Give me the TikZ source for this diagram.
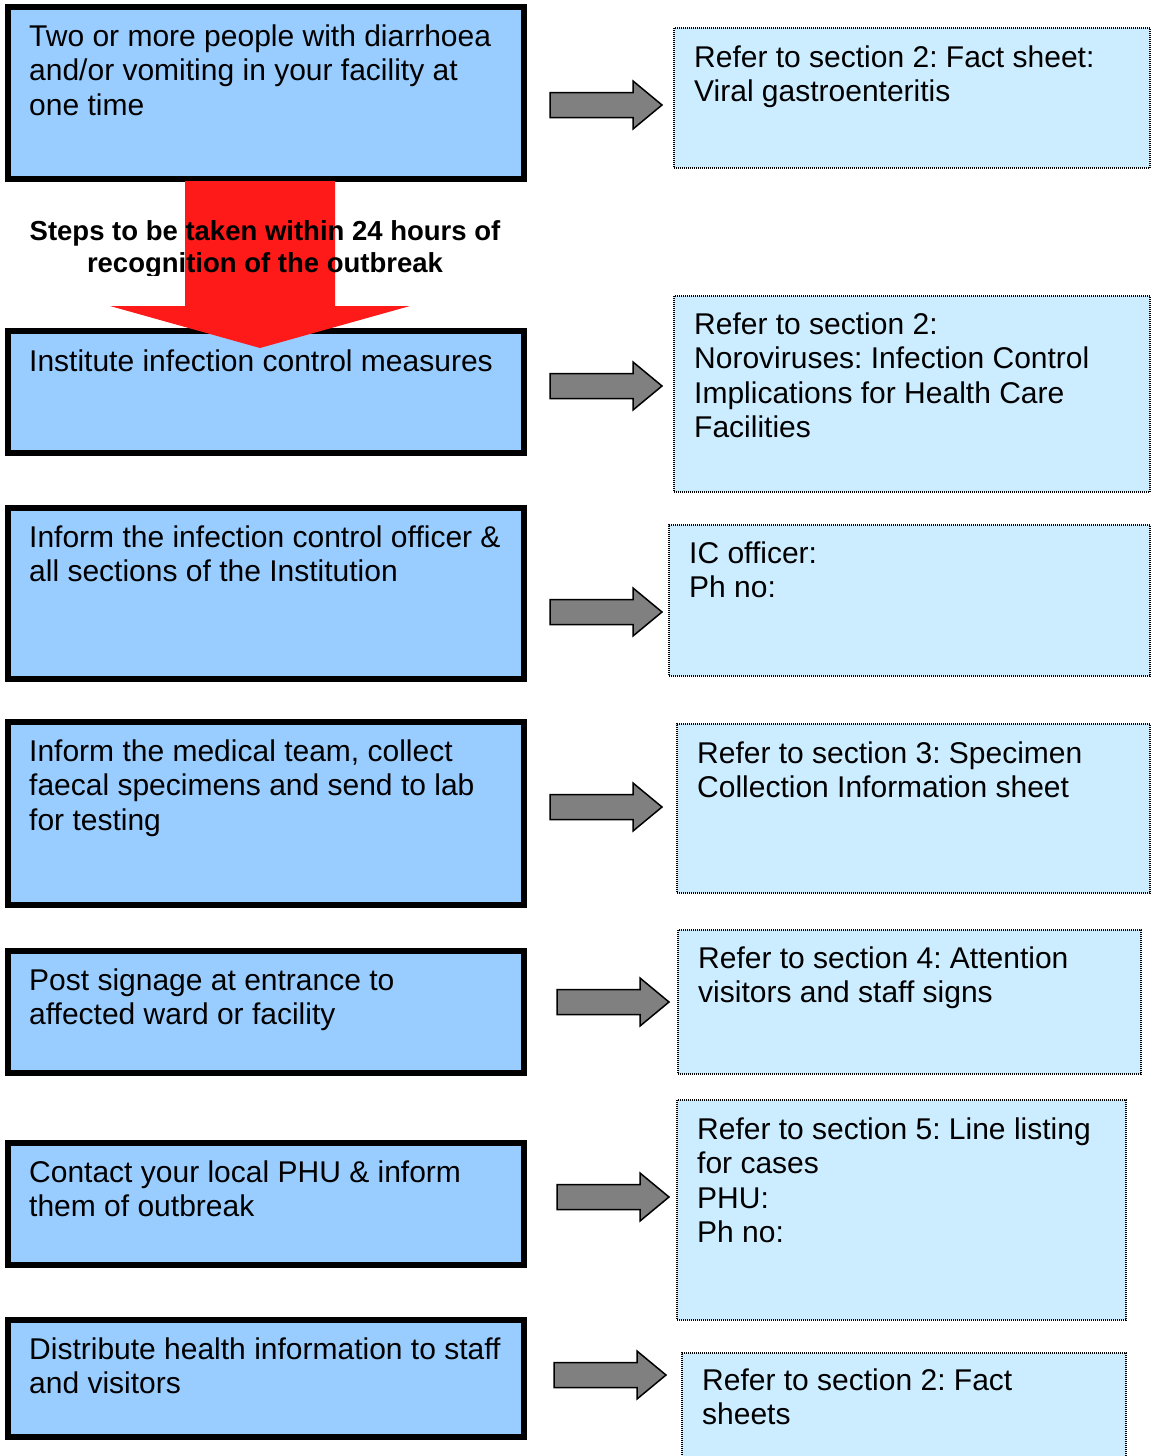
\documentclass[tikz,border=0pt]{standalone}
\usepackage{fontspec}
\setmainfont{Liberation Sans}
\frenchspacing
\usetikzlibrary{fit}
\definecolor{leftfill}{HTML}{99CCFF}
\definecolor{rightfill}{HTML}{CCECFF}
\definecolor{redarrow}{HTML}{FF1A1A}
\definecolor{grayfill}{HTML}{808080}
\tikzset{
  leftbox/.style={draw=black, line width=6pt, fill=leftfill, inner sep=0pt, rectangle},
  rightbox/.style={draw=black, line width=1.2pt, dash pattern=on 1pt off 1pt, fill=rightfill, inner sep=0pt, rectangle},
  bodytext/.style={font=\fontsize{30}{34.5}\selectfont, align=left, inner sep=0pt, anchor=north west, execute at begin node=\strut},
  headtext/.style={font=\fontsize{27.5}{31.6}\selectfont\bfseries, align=center, inner sep=0pt, anchor=north, execute at begin node=\strut},
  grayarrow/.pic={\draw[fill=grayfill, draw=black, line width=1.5pt, line join=miter]
    (0,-12.5) -- (83,-12.5) -- (83,-24) -- (112,0) -- (83,24) -- (83,12.5) -- (0,12.5) -- cycle;}
}
\begin{document}
\frenchspacing
\begin{tikzpicture}[x=1pt, y=-1pt]
\clip (0,0) rectangle (1151,1456);
\fill[white] (0,0) rectangle (1151,1456);

% left boxes
\node[leftbox, fit={(8,7) (524,179)}] (L1) {};
\node[leftbox, fit={(8,331) (524,453)}] (L2) {};
\node[leftbox, fit={(8,508) (524,679)}] (L3) {};
\node[leftbox, fit={(8,722) (524,905)}] (L4) {};
\node[leftbox, fit={(8,951) (524,1073)}] (L5) {};
\node[leftbox, fit={(8,1143) (524,1265)}] (L6) {};
\node[leftbox, fit={(8,1320) (524,1437)}] (L7) {};

% right boxes
\node[rightbox, fit={(674,28) (1150,168)}] (R1) {};
\node[rightbox, fit={(674,296) (1150,492)}] (R2) {};
\node[rightbox, fit={(669,525) (1150,676)}] (R3) {};
\node[rightbox, fit={(677,724) (1150,893)}] (R4) {};
\node[rightbox, fit={(678,930) (1141,1074)}] (R5) {};
\node[rightbox, fit={(677,1100) (1126,1320)}] (R6) {};
\node[rightbox, fit={(682,1353) (1126,1470)}] (R7) {};

% red arrow
\fill[redarrow] (185,181) -- (335,181) -- (335,306) -- (410,306) -- (260,348) -- (110,306) -- (185,306) -- cycle;

% heading
\begin{scope}
\clip (0,200) rectangle (540,275);
\node[headtext] (H) at (265,220.4) {Steps to be taken within 24 hours of\\recognition of the outbreak};
\end{scope}

% left texts
\node[bodytext] (T1) at (29,24.2) {Two or more people with diarrhoea\\and/or vomiting in your facility at\\one time};
\node[bodytext] (T2) at (29,347.5) {Institute infection control measures};
\node[bodytext] (T3) at (29,525.5) {Inform the infection control officer \&\\all sections of the Institution};
\node[bodytext] (T4) at (29,739.5) {Inform the medical team, collect\\faecal specimens and send to lab\\for testing};
\node[bodytext] (T5) at (29,968.5) {Post signage at entrance to\\affected ward or facility};
\node[bodytext] (T6) at (29,1160.5) {Contact your local PHU \& inform\\them of outbreak};
\node[bodytext] (T7) at (29,1337.5) {Distribute health information to staff\\and visitors};

% right texts
\node[bodytext] (S1) at (694,45.5) {Refer to section 2: Fact sheet:\\Viral gastroenteritis};
\node[bodytext] (S2) at (694,312.5) {Refer to section 2:\\Noroviruses: Infection Control\\Implications for Health Care\\Facilities};
\node[bodytext] (S3) at (689,541.5) {IC officer:\\Ph no:};
\node[bodytext] (S4) at (697,741.5) {Refer to section 3: Specimen\\Collection Information sheet};
\node[bodytext] (S5) at (698,946.5) {Refer to section 4: Attention\\visitors and staff signs};
\node[bodytext] (S6) at (697,1117.5) {Refer to section 5: Line listing\\for cases\\PHU:\\Ph no:};
\node[bodytext] (S7) at (702,1368.5) {Refer to section 2: Fact\\sheets};

% gray block arrows
\pic (A1) at (550,105) {grayarrow};
\pic (A2) at (550,386) {grayarrow};
\pic (A3) at (550,612) {grayarrow};
\pic (A4) at (550,807) {grayarrow};
\pic (A5) at (557,1002) {grayarrow};
\pic (A6) at (557,1197) {grayarrow};
\pic (A7) at (554,1375) {grayarrow};
\end{tikzpicture}
\end{document}
